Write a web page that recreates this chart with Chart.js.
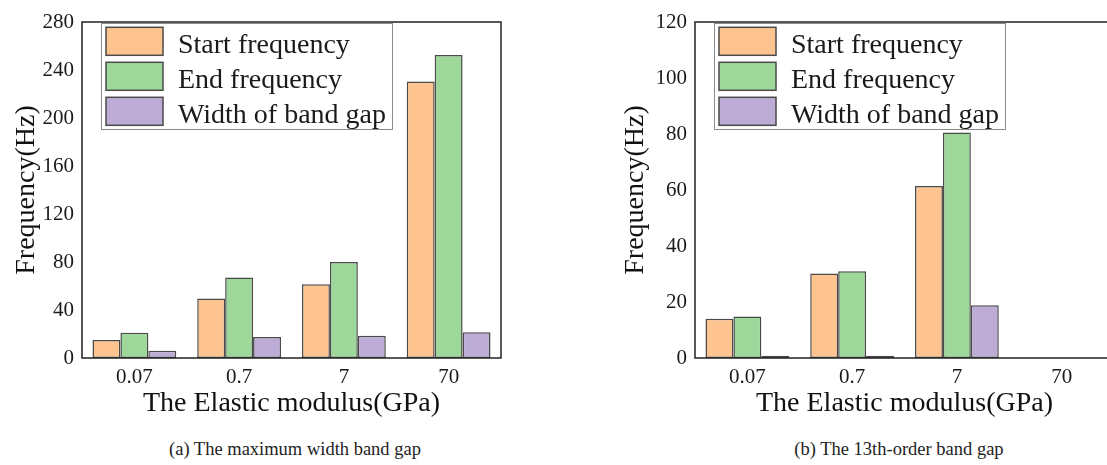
<!DOCTYPE html>
<html>
<head>
<meta charset="utf-8">
<script src="https://cdn.jsdelivr.net/npm/chart.js@4.4.1/dist/chart.umd.min.js"></script>
<style>
  html, body { margin: 0; padding: 0; background: #fff; overflow: hidden; width: 1107px; height: 465px; }
  .panel { position: absolute; top: 0; height: 425px; }
  .caption { position: absolute; top: 439px; width: 400px; text-align: center; white-space: nowrap;
             font: 18.5px "Liberation Serif", "Times New Roman", serif; color: #222; }
</style>
</head>
<body>
<div class="panel" style="left:0;width:520px"><canvas id="chartA"></canvas></div>
<div class="panel" style="left:600px;width:534px"><canvas id="chartB"></canvas></div>
<div class="caption" style="left:95px">(a) The maximum width band gap</div>
<div class="caption" style="left:699px">(b) The 13th-order band gap</div>

<script>
// categories (elastic modulus, GPa) and series names
const categories = ['0.07', '0.7', '7', '70'];
const seriesNames = ['Start frequency', 'End frequency', 'Width of band gap'];

// (a) maximum width band gap, Hz
const startA = [15, 49.5, 61.5, 230.5];
const endA = [21, 67, 80, 252.5];
const widthA = [6, 17.5, 18.5, 21.5];

// (b) 13th-order band gap, Hz (no gap at 70 GPa)
const startB = [14, 30.2, 61.4, null];
const endB = [14.8, 31, 80.5, null];
const widthB = [0.8, 0.8, 18.8, null];

// y axis ranges
const yMaxA = 280, yStepA = 40;
const yMaxB = 120, yStepB = 20;

const fillColors = ['#FEC490', '#9DD89A', '#BDADD6'];
const edgeColor = '#4a4a4a';
const serif = '"Liberation Serif", "Times New Roman", serif';

Chart.defaults.font.family = serif;
Chart.defaults.color = '#1a1a1a';

// box around the plot area
const framePlugin = {
    id: 'frame',
    afterDatasetsDraw(chart) {
        const { ctx, chartArea: a } = chart;
        ctx.save();
        ctx.strokeStyle = '#222';
        ctx.lineWidth = 1.5;
        ctx.strokeRect(a.left, a.top, a.right - a.left, a.bottom - a.top);
        ctx.restore();
    }
};

// legend drawn inside the plot, top left
const boxLegendPlugin = {
    id: 'boxLegend',
    afterDraw(chart) {
        const { ctx, chartArea: a } = chart;
        const x0 = a.left + 19, y0 = a.top + 1;
        ctx.save();
        ctx.fillStyle = '#fff';
        ctx.fillRect(x0, y0, 291, 106);
        ctx.strokeStyle = '#8a8a8a';
        ctx.lineWidth = 1;
        ctx.strokeRect(x0 + 0.5, y0 + 0.5, 291, 106);
        ctx.font = '28px ' + serif;
        ctx.textBaseline = 'alphabetic';
        chart.data.datasets.forEach((ds, i) => {
            const cy = a.top + 19.3 + i * 35;
            ctx.fillStyle = ds.backgroundColor;
            ctx.fillRect(a.left + 24, cy - 14, 57, 28);
            ctx.strokeStyle = edgeColor;
            ctx.lineWidth = 1.5;
            ctx.strokeRect(a.left + 24, cy - 14, 57, 28);
            ctx.fillStyle = '#1a1a1a';
            ctx.fillText(ds.label, a.left + 96, cy + 11.4);
        });
        ctx.restore();
    }
};

function makeChart(id, series, yMax, yStep, yAxisWidth, yTitlePad, rightPad) {
    return new Chart(document.getElementById(id), {
        type: 'bar',
        data: {
            labels: categories,
            datasets: series.map((values, i) => ({
                label: seriesNames[i],
                data: values,
                backgroundColor: fillColors[i],
                borderColor: edgeColor,
                borderWidth: 1.5,
                borderSkipped: false,
                categoryPercentage: 0.8,
                barPercentage: 1.0
            }))
        },
        options: {
            responsive: true,
            maintainAspectRatio: false,
            animation: false,
            layout: { padding: { top: 22, right: rightPad, left: 0, bottom: 0 } },
            plugins: { legend: { display: false }, tooltip: { enabled: false } },
            scales: {
                x: {
                    grid: { display: false, drawTicks: false },
                    border: { display: false },
                    ticks: { font: { size: 21 }, padding: 7, color: '#1a1a1a' },
                    title: {
                        display: true, text: 'The Elastic modulus(GPa)',
                        font: { size: 28 }, padding: { top: 0, bottom: 5 }, color: '#111'
                    },
                    afterFit: scale => { scale.height = 67; }
                },
                y: {
                    min: 0, max: yMax,
                    grid: { display: false, drawTicks: false },
                    border: { display: false },
                    ticks: { stepSize: yStep, font: { size: 21 }, padding: 8, color: '#1a1a1a' },
                    title: {
                        display: true, text: 'Frequency(Hz)',
                        font: { size: 28 }, padding: { top: yTitlePad, bottom: 0 }, color: '#111'
                    },
                    afterFit: scale => { scale.width = yAxisWidth; }
                }
            }
        },
        plugins: [framePlugin, boxLegendPlugin]
    });
}

makeChart('chartA', [startA, endA, widthA], yMaxA, yStepA, 82, 10, 19);
makeChart('chartB', [startB, endB, widthB], yMaxB, yStepB, 95, 19, 20);
</script>
</body>
</html>
